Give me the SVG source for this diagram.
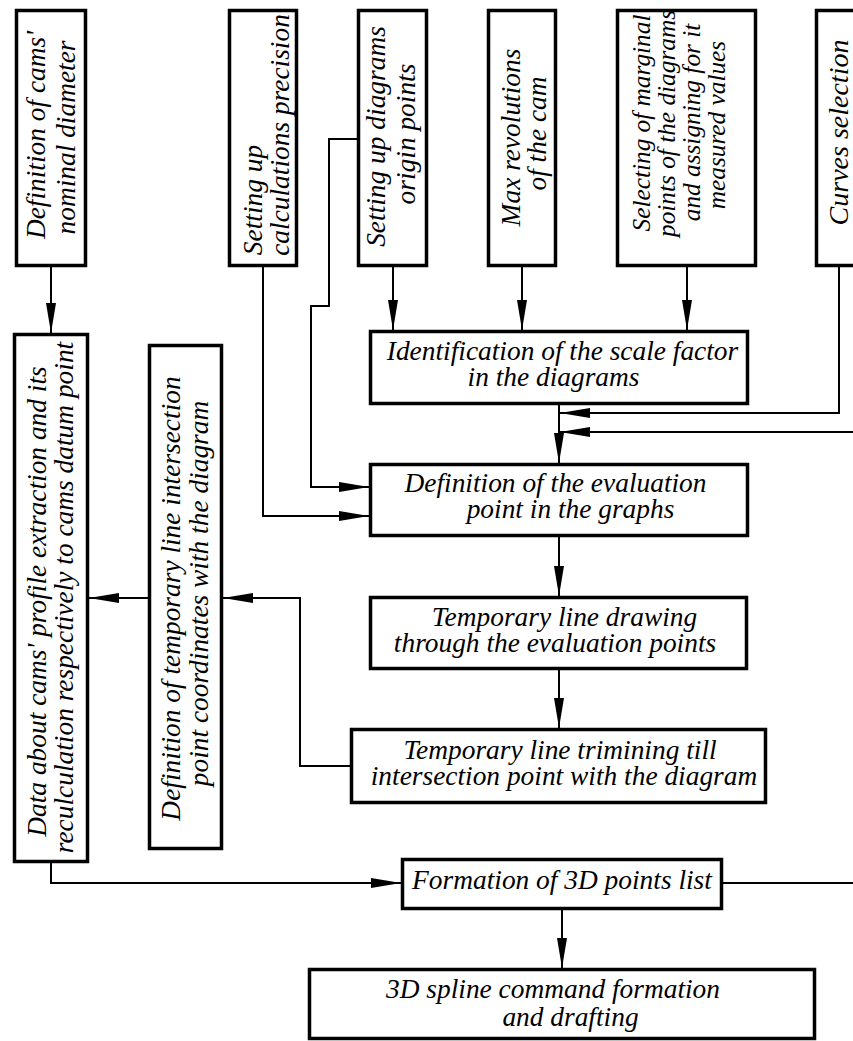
<svg xmlns="http://www.w3.org/2000/svg" width="853" height="1041" viewBox="0 0 853 1041">
<style>
.box{fill:#fff;stroke:#000;stroke-width:3.5}
.t{font-family:"Liberation Serif","Times New Roman","DejaVu Serif",serif;font-style:italic;font-size:27.4px;fill:#000;text-anchor:middle}
.s{font-size:25.3px}
.c{fill:none;stroke:#000;stroke-width:2}
</style>
<defs>
<marker id="ah" markerUnits="userSpaceOnUse" markerWidth="30" markerHeight="10" refX="30" refY="5" orient="auto">
<path d="M0,0 L30,5 L0,10 z" fill="#000"/>
</marker>
</defs>
<rect width="853" height="1041" fill="#fff"/>
<g id="n-diameter">
<rect class="box" x="16.5" y="10.5" width="69" height="255"/>
<text class="t" transform="translate(45,135) rotate(-90)">Definition of cams'</text>
<text class="t" transform="translate(75,137.5) rotate(-90)">nominal diameter</text>
</g>
<g id="n-precision">
<rect class="box" x="229.5" y="10.5" width="67" height="255"/>
<text class="t" transform="translate(262,200) rotate(-90)">Setting up</text>
<text class="t" transform="translate(289,135) rotate(-90)">calculations precision</text>
</g>
<g id="n-origin">
<rect class="box" x="358.5" y="10.5" width="68" height="255"/>
<text class="t" transform="translate(385,136.5) rotate(-90)">Setting up diagrams</text>
<text class="t" transform="translate(415,134) rotate(-90)">origin points</text>
</g>
<g id="n-revolutions">
<rect class="box" x="488.5" y="10.5" width="67" height="255"/>
<text class="t" transform="translate(520,137.5) rotate(-90)">Max revolutions</text>
<text class="t" transform="translate(546,133.5) rotate(-90)">of the cam</text>
</g>
<g id="n-marginal">
<rect class="box" x="617.5" y="10.5" width="138" height="255"/>
<text class="t s" transform="translate(650,123) rotate(-90)">Selecting of marginal</text>
<text class="t s" transform="translate(675,123.5) rotate(-90)">points of the diagrams</text>
<text class="t s" transform="translate(700,122.5) rotate(-90)">and assigning for it</text>
<text class="t s" transform="translate(725,125) rotate(-90)">measured values</text>
</g>
<g id="n-curves">
<rect class="box" x="816.5" y="10.5" width="60" height="255"/>
<text class="t" style="font-size:28px" transform="translate(848,132.5) rotate(-90)">Curves selection</text>
</g>
<g id="n-data">
<rect class="box" x="14.5" y="334.5" width="73" height="527"/>
<text class="t" transform="translate(46,601.5) rotate(-90)">Data about cams' profile extraction and its</text>
<text class="t" transform="translate(73,597.5) rotate(-90)">reculculation respectively to cams datum point</text>
</g>
<g id="n-deftemp">
<rect class="box" x="149.5" y="345.5" width="72" height="503"/>
<text class="t" transform="translate(180,598.5) rotate(-90)">Definition of temporary line intersection</text>
<text class="t" transform="translate(208,593.5) rotate(-90)">point coordinates with the diagram</text>
</g>
<g id="n-scale">
<rect class="box" x="370.5" y="331.5" width="377" height="72"/>
<text class="t" x="562.5" y="360">Identification of the scale factor</text>
<text class="t" x="553.5" y="386">in the diagrams</text>
</g>
<g id="n-evaluation">
<rect class="box" x="370.5" y="464.5" width="377" height="71"/>
<text class="t" x="555.5" y="492">Definition of the evaluation</text>
<text class="t" x="570.5" y="518">point in the graphs</text>
</g>
<g id="n-drawing">
<rect class="box" x="370.5" y="597.5" width="376" height="71"/>
<text class="t" x="564.5" y="626">Temporary line drawing</text>
<text class="t" x="555" y="652">through the evaluation points</text>
</g>
<g id="n-trimming">
<rect class="box" x="351.5" y="729.5" width="414" height="73"/>
<text class="t" x="560" y="759">Temporary line trimining till</text>
<text class="t" x="564" y="785">intersection point with the diagram</text>
</g>
<g id="n-points">
<rect class="box" x="402.5" y="859.5" width="319" height="49"/>
<text class="t" x="562" y="889">Formation of 3D points list</text>
</g>
<g id="n-spline">
<rect class="box" x="309.5" y="969.5" width="505" height="69"/>
<text class="t" x="553" y="998">3D spline command formation</text>
<text class="t" x="570.5" y="1026">and drafting</text>
</g>
<g id="connectors">
<path class="c" d="M51,267 V333" marker-end="url(#ah)"/>
<path class="c" d="M263,267 V516 H369" marker-end="url(#ah)"/>
<path class="c" d="M357,139 H329 V306 H311 V487 H369" marker-end="url(#ah)"/>
<path class="c" d="M393,267 V330" marker-end="url(#ah)"/>
<path class="c" d="M522,267 V330" marker-end="url(#ah)"/>
<path class="c" d="M687,267 V330" marker-end="url(#ah)"/>
<path class="c" d="M839,267 V413 H560" marker-end="url(#ah)"/>
<path class="c" d="M853,432 H560" marker-end="url(#ah)"/>
<path class="c" d="M559,405 V463" marker-end="url(#ah)"/>
<path class="c" d="M559,537 V596" marker-end="url(#ah)"/>
<path class="c" d="M559,670 V728" marker-end="url(#ah)"/>
<path class="c" d="M350,766 H300 V598 H223" marker-end="url(#ah)"/>
<path class="c" d="M148,598 H89" marker-end="url(#ah)"/>
<path class="c" d="M51,863 V883 H401" marker-end="url(#ah)"/>
<path class="c" d="M723,883 H853"/>
<path class="c" d="M562,910 V968" marker-end="url(#ah)"/>
</g>
</svg>
